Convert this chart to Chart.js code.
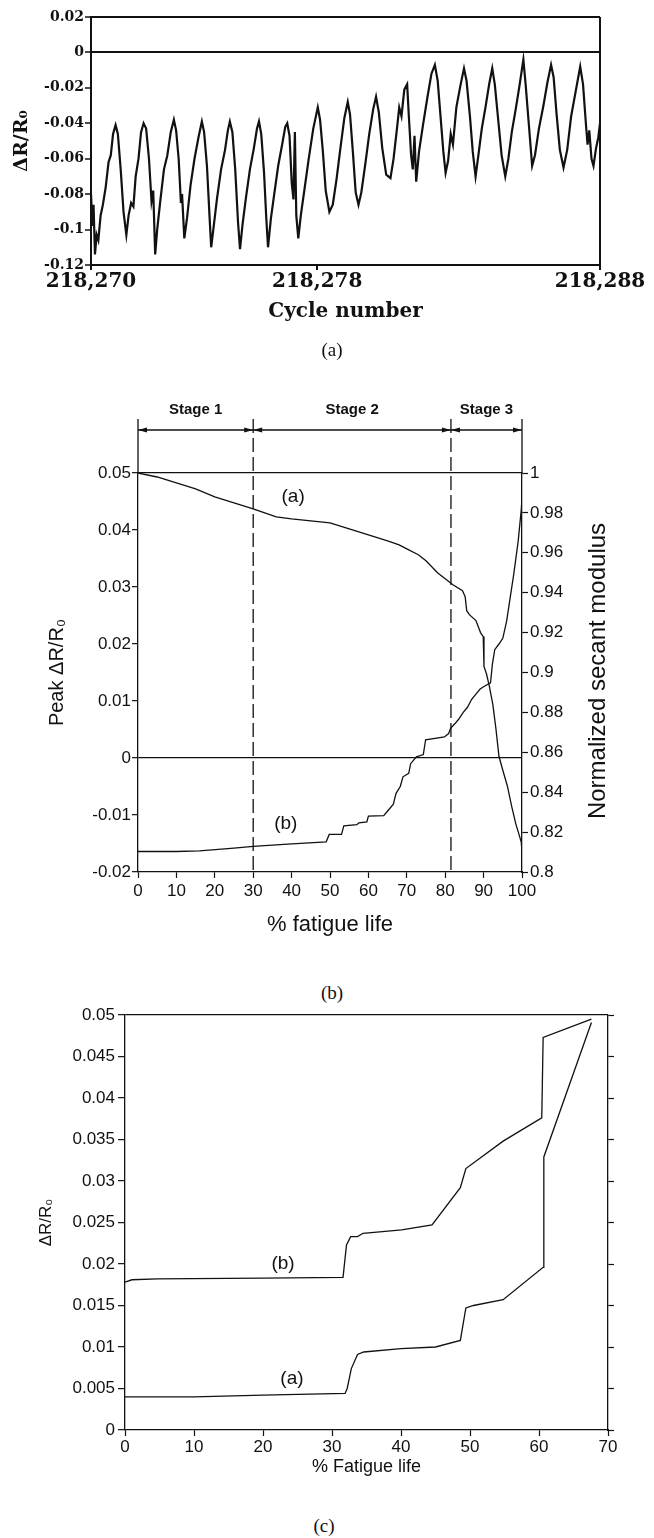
<!DOCTYPE html>
<html>
<head>
<meta charset="utf-8">
<script src="https://cdn.jsdelivr.net/npm/chart.js@4.4.1/dist/chart.umd.min.js"></script>
<style>
  html, body { margin: 0; padding: 0; background: #fff; }
  #page { position: relative; width: 654px; height: 1538px; overflow: hidden; }
  #page canvas { position: absolute; left: 0; }
  .cap { position: absolute; width: 60px; margin-left: -30px; text-align: center;
         font: 19px "Liberation Serif", "DejaVu Serif", serif; color: #111; }
</style>
</head>
<body>
<div id="page">
  <canvas id="figA" width="654" height="370" style="top:0"></canvas>
  <div class="cap" style="left:332px; top:339px">(a)</div>
  <canvas id="figB" width="654" height="560" style="top:385px"></canvas>
  <div class="cap" style="left:332px; top:982px">(b)</div>
  <canvas id="figC" width="654" height="490" style="top:1000px"></canvas>
  <div class="cap" style="left:324px; top:1515px">(c)</div>
</div>
<script>
// ---- (a) resistance change over a few load cycles ----
const CYCLE0 = 218270;
const cycleTicks = [218270, 218278, 218288];
// offset from cycle 218,270
const cycleOffsetA = [
  0.00, 0.05, 0.09, 0.14, 0.20, 0.26, 0.34, 0.42, 0.52, 0.62, 0.70, 0.78,
  0.87, 0.95, 1.05, 1.15, 1.25, 1.33, 1.42, 1.50, 1.58, 1.68, 1.77,
  1.86, 1.95, 2.05, 2.14, 2.20, 2.27, 2.34, 2.45, 2.58, 2.70, 2.82,
  2.93, 3.01, 3.10, 3.18, 3.22, 3.30, 3.40, 3.52, 3.66, 3.80,
  3.92, 4.00, 4.10, 4.19, 4.25, 4.34, 4.46, 4.60, 4.74, 4.84,
  4.91, 5.00, 5.10, 5.20, 5.27, 5.36, 5.48, 5.62, 5.76, 5.87,
  5.94, 6.02, 6.12, 6.20, 6.26, 6.36, 6.48, 6.62, 6.76, 6.87,
  6.94, 7.02, 7.10, 7.16, 7.21, 7.26, 7.33, 7.42, 7.56, 7.70, 7.86,
  8.02, 8.10, 8.20, 8.30, 8.43, 8.55, 8.68, 8.82, 8.96,
  9.08, 9.16, 9.26, 9.36, 9.46, 9.56, 9.70, 9.84, 9.98,
  10.08, 10.18, 10.30, 10.44, 10.59, 10.70, 10.82, 10.90, 10.98, 11.08,
  11.18, 11.24, 11.32, 11.38, 11.44, 11.50, 11.60, 11.74, 11.90, 12.04,
  12.16, 12.26, 12.36, 12.46, 12.54, 12.63, 12.72, 12.80, 12.92, 13.06,
  13.19, 13.28, 13.40, 13.50, 13.60, 13.70, 13.82, 13.96, 14.08,
  14.19, 14.28, 14.40, 14.52, 14.65, 14.76, 14.88, 15.02, 15.16,
  15.29, 15.37, 15.48, 15.60, 15.70, 15.84, 16.00, 16.14,
  16.27, 16.36, 16.46, 16.58, 16.71, 16.84, 16.98, 17.14,
  17.30, 17.40, 17.50, 17.56, 17.62, 17.70, 17.77, 17.86, 17.94, 18.00
];
const dRA = [
  -0.080, -0.098, -0.086, -0.114, -0.103, -0.106, -0.092, -0.086, -0.076, -0.062, -0.058, -0.046,
  -0.041, -0.046, -0.066, -0.090, -0.103, -0.092, -0.085, -0.087, -0.070, -0.060, -0.045,
  -0.040, -0.043, -0.060, -0.084, -0.078, -0.114, -0.100, -0.084, -0.066, -0.058, -0.045,
  -0.038, -0.044, -0.060, -0.085, -0.080, -0.105, -0.093, -0.075, -0.060, -0.048,
  -0.039, -0.045, -0.064, -0.092, -0.110, -0.098, -0.082, -0.066, -0.055, -0.044,
  -0.039, -0.045, -0.066, -0.096, -0.111, -0.097, -0.082, -0.066, -0.054, -0.043,
  -0.039, -0.046, -0.068, -0.094, -0.110, -0.094, -0.080, -0.064, -0.052, -0.042,
  -0.040, -0.047, -0.074, -0.083, -0.045, -0.092, -0.105, -0.092, -0.076, -0.060, -0.043,
  -0.031, -0.038, -0.056, -0.078, -0.090, -0.086, -0.072, -0.054, -0.037,
  -0.028, -0.035, -0.056, -0.079, -0.086, -0.079, -0.063, -0.046, -0.032,
  -0.025, -0.034, -0.054, -0.069, -0.071, -0.060, -0.043, -0.031, -0.036, -0.021,
  -0.018, -0.036, -0.058, -0.066, -0.047, -0.073, -0.056, -0.041, -0.025, -0.012,
  -0.007, -0.016, -0.036, -0.056, -0.068, -0.061, -0.046, -0.052, -0.031, -0.019,
  -0.009, -0.016, -0.036, -0.056, -0.070, -0.058, -0.043, -0.030, -0.018,
  -0.009, -0.018, -0.038, -0.058, -0.070, -0.060, -0.045, -0.032, -0.018,
  -0.004, -0.018, -0.040, -0.064, -0.058, -0.043, -0.030, -0.017,
  -0.007, -0.014, -0.034, -0.055, -0.065, -0.055, -0.036, -0.022,
  -0.008, -0.018, -0.040, -0.052, -0.044, -0.060, -0.064, -0.054, -0.048, -0.040
];

// ---- (b) peak resistance change and secant modulus vs % fatigue life ----
const lifeMod = [0, 5, 10, 15, 20, 25, 30, 33, 36, 40, 45, 50, 55, 60, 65, 68, 70, 73, 75, 78,
  80, 82, 84.5, 85.2, 85.6, 86.3, 88, 89.2, 89.9, 90.1, 90.8, 91.5, 92.4, 93.2, 94, 95,
  96.2, 97.3, 98.4, 99.2, 99.8, 100];
const secantModulus = [1.000, 0.998, 0.995, 0.992, 0.988, 0.985, 0.982, 0.980, 0.978, 0.977,
  0.976, 0.975, 0.972, 0.969, 0.966, 0.964, 0.962, 0.959, 0.956, 0.950,
  0.947, 0.944, 0.941, 0.938, 0.931, 0.929, 0.926, 0.920, 0.918, 0.903, 0.899, 0.893, 0.884,
  0.872, 0.858, 0.851, 0.843, 0.833, 0.824, 0.819, 0.815, 0.810];
const lifePeak = [0, 10, 16, 25, 30, 39, 49, 49.8, 53, 53.6, 57, 57.5, 59.6, 60, 64, 65, 66.5,
  67.2, 68.3, 69, 70.5, 71, 72.5, 74.3, 74.9, 79.8, 80.9, 81.4, 82.5, 83.5, 84.7, 85.8,
  86.9, 88, 89.1, 90.2, 91.8, 92.3, 92.9, 94, 95, 96, 97, 97.8, 99, 99.8, 100];
const peakDR = [-0.0164, -0.0164, -0.0163, -0.0158, -0.0155, -0.0151, -0.0147, -0.0134, -0.0134,
  -0.0119, -0.0117, -0.0114, -0.0112, -0.0102, -0.0101, -0.0093, -0.0081, -0.0062, -0.0050,
  -0.0033, -0.0027, -0.0010, 0.0002, 0.0006, 0.0032, 0.0037, 0.0043, 0.0052, 0.0060, 0.0068,
  0.0080, 0.0089, 0.0103, 0.0112, 0.0121, 0.0126, 0.0132, 0.0165, 0.0190, 0.0200, 0.0210,
  0.0240, 0.0285, 0.0320, 0.0380, 0.0435, 0.0455];
const stageBounds = [0, 30, 81.5, 100];
const stageNames = ['Stage 1', 'Stage 2', 'Stage 3'];

// ---- (c) two specimens ----
const lifeCa = [0, 10, 20, 31.9, 32.2, 32.8, 33.7, 34.6, 40, 45, 48.6, 49.4, 50.5, 54.8, 60.6, 60.7, 67.6];
const dRCa = [0.0040, 0.0040, 0.0042, 0.0044, 0.0050, 0.0074, 0.0091, 0.0094, 0.0098, 0.0100,
  0.0108, 0.0147, 0.0150, 0.0157, 0.0196, 0.0329, 0.0491];
const lifeCb = [0, 1, 4.7, 20, 31.6, 32.1, 32.7, 33.7, 34.5, 40.1, 44.5, 48.6, 49.4, 54.8, 60.4, 60.6, 67.6];
const dRCb = [0.0178, 0.0181, 0.0182, 0.0183, 0.0184, 0.0223, 0.0233, 0.0233, 0.0237, 0.0241,
  0.0247, 0.0292, 0.0315, 0.0348, 0.0376, 0.0473, 0.0495];

const INK = '#111';
const SANS = '"Liberation Sans", Arial, sans-serif';
const SERIF = '"DejaVu Serif", serif';
const zip = (xs, ys) => xs.map((x, i) => ({x: x, y: ys[i]}));
const near = (a, b) => Math.abs(a - b) < 1e-9;
const lineAt = (...vals) => c => (c.tick && vals.some(v => near(c.tick.value, v))) ? INK : 'rgba(0,0,0,0)';
const fmt = d => v => String(+Number(v).toFixed(d));

Chart.defaults.color = INK;
Chart.defaults.font.family = SANS;

const baseOpts = {
  responsive: false,
  animation: false,
  events: [],
  plugins: {legend: {display: false}, tooltip: {enabled: false}}
};
const curve = (data, extra) => Object.assign({
  data: data, borderColor: INK, borderWidth: 1.3, pointRadius: 0, tension: 0, fill: false
}, extra || {});

// text drawn at data coordinates
function labelAt(chart, txt, x, y, axis) {
  const ctx = chart.ctx;
  ctx.save();
  ctx.font = '19px ' + SANS;
  ctx.fillStyle = INK;
  ctx.textAlign = 'center';
  ctx.textBaseline = 'middle';
  ctx.fillText(txt, chart.scales.x.getPixelForValue(x), chart.scales[axis || 'y'].getPixelForValue(y));
  ctx.restore();
}

// (a)
new Chart(document.getElementById('figA'), {
  type: 'line',
  data: {datasets: [curve(zip(cycleOffsetA.map(c => CYCLE0 + c), dRA), {borderWidth: 2.2})]},
  options: Object.assign({}, baseOpts, {
    layout: {padding: {top: 17, right: 54, left: 0, bottom: 0}},
    scales: {
      x: {
        type: 'linear', min: CYCLE0, max: 218288,
        afterBuildTicks: s => { s.ticks = cycleTicks.map(v => ({value: v})); },
        afterFit: s => { s.height = 105; },
        border: {color: INK, width: 2},
        grid: {color: lineAt(218288), lineWidth: 2, tickColor: INK, tickWidth: 2, tickLength: 5},
        ticks: {autoSkip: false, maxRotation: 0, padding: 0, color: INK,
                font: {family: SERIF, weight: 'bold', size: 20},
                callback: v => Number(v).toLocaleString('en-US')},
        title: {display: true, text: 'Cycle number', color: INK,
                font: {family: SERIF, weight: 'bold', size: 20}, padding: {top: 0, bottom: 46}}
      },
      y: {
        min: -0.12, max: 0.02,
        afterFit: s => { s.width = 91; },
        border: {color: INK, width: 2},
        grid: {color: lineAt(0, 0.02), lineWidth: 2, tickColor: INK, tickWidth: 1.5, tickLength: 6},
        ticks: {stepSize: 0.02, padding: 1, color: INK, callback: fmt(2),
                font: {family: SERIF, weight: 'bold', size: 14}},
        title: {display: true, text: 'ΔR/R₀', color: INK,
                font: {family: SERIF, weight: 'bold', size: 19}, padding: {top: 11, bottom: 0}}
      }
    }
  })
});

// (b)
const stagePlugin = {
  id: 'stages',
  afterDraw(chart) {
    const {ctx, chartArea, scales} = chart;
    const X = v => scales.x.getPixelForValue(v);
    const barY = 45, topY = barY - 11;
    ctx.save();
    ctx.strokeStyle = INK;
    ctx.fillStyle = INK;
    ctx.lineWidth = 1.3;
    // axis lines carried up to the stage bar
    ctx.beginPath();
    ctx.moveTo(X(0), topY); ctx.lineTo(X(0), chartArea.top);
    ctx.moveTo(X(100), topY); ctx.lineTo(X(100), chartArea.top);
    ctx.moveTo(X(0), barY); ctx.lineTo(X(100), barY);
    ctx.stroke();
    // dashed stage boundaries
    ctx.setLineDash([14, 5]);
    ctx.beginPath();
    [30, 81.5].forEach(v => { ctx.moveTo(X(v), topY); ctx.lineTo(X(v), chartArea.bottom); });
    ctx.stroke();
    ctx.setLineDash([]);
    // arrow heads and stage names
    ctx.font = 'bold 15px ' + SANS;
    ctx.textAlign = 'center';
    ctx.textBaseline = 'middle';
    for (let i = 0; i < stageBounds.length - 1; i++) {
      const a = X(stageBounds[i]), b = X(stageBounds[i + 1]);
      [[a, 1], [b, -1]].forEach(([px, dir]) => {
        ctx.beginPath();
        ctx.moveTo(px, barY);
        ctx.lineTo(px + dir * 9, barY - 2.5);
        ctx.lineTo(px + dir * 9, barY + 2.5);
        ctx.closePath();
        ctx.fill();
      });
      ctx.fillText(stageNames[i], (a + b) / 2, barY - 20);
    }
    // right axis title, reads bottom to top
    ctx.font = '24px ' + SANS;
    ctx.translate(598, 286);
    ctx.rotate(-Math.PI / 2);
    ctx.fillText('Normalized secant modulus', 0, 0);
    ctx.restore();
    labelAt(chart, '(a)', 40.4, 0.0459);
    labelAt(chart, '(b)', 38.5, -0.0115);
  }
};

new Chart(document.getElementById('figB'), {
  type: 'line',
  data: {datasets: [
    curve(zip(lifeMod, secantModulus), {yAxisID: 'y2'}),
    curve(zip(lifePeak, peakDR), {yAxisID: 'y'})
  ]},
  options: Object.assign({}, baseOpts, {
    layout: {padding: {top: 88, right: 0, left: 0, bottom: 0}},
    scales: {
      x: {
        type: 'linear', min: 0, max: 100,
        afterFit: s => { s.height = 73; },
        border: {color: INK, width: 1.3},
        grid: {color: 'rgba(0,0,0,0)', tickColor: INK, tickWidth: 1.2, tickLength: 6},
        ticks: {stepSize: 10, padding: 3, maxRotation: 0, color: INK, font: {size: 17}},
        title: {display: true, text: '% fatigue life', color: INK, font: {size: 22},
                padding: {top: 0, bottom: 7}}
      },
      y: {
        position: 'left', min: -0.02, max: 0.05,
        afterFit: s => { s.width = 138; },
        border: {color: INK, width: 1.3},
        grid: {color: lineAt(0, 0.05), lineWidth: 1.3, tickColor: INK, tickWidth: 1.2, tickLength: 6},
        ticks: {stepSize: 0.01, padding: 1, color: INK, font: {size: 17}, callback: fmt(2)},
        title: {display: true, text: 'Peak ΔR/R₀', color: INK, font: {size: 20},
                padding: {top: 45, bottom: 0}}
      },
      y2: {
        position: 'right', min: 0.8, max: 1,
        afterFit: s => { s.width = 132; },
        border: {color: INK, width: 1.3},
        grid: {drawOnChartArea: false, tickColor: INK, tickWidth: 1.2, tickLength: 6},
        ticks: {stepSize: 0.02, padding: 2, color: INK, font: {size: 17}, callback: fmt(2)}
      }
    }
  }),
  plugins: [stagePlugin]
});

// (c)
new Chart(document.getElementById('figC'), {
  type: 'line',
  data: {datasets: [
    curve(zip(lifeCa, dRCa)),
    curve(zip(lifeCb, dRCb))
  ]},
  options: Object.assign({}, baseOpts, {
    layout: {padding: {top: 15, right: 0, left: 0, bottom: 0}},
    scales: {
      x: {
        type: 'linear', min: 0, max: 70,
        afterFit: s => { s.height = 60; },
        border: {color: INK, width: 1.3},
        grid: {color: 'rgba(0,0,0,0)', tickColor: INK, tickWidth: 1.2, tickLength: 6},
        ticks: {stepSize: 10, padding: 1, maxRotation: 0, color: INK, font: {size: 17}},
        title: {display: true, text: '% Fatigue life', color: INK, font: {size: 18},
                padding: {top: 0, bottom: 12}}
      },
      y: {
        min: 0, max: 0.05,
        afterFit: s => { s.width = 125; },
        border: {color: INK, width: 1.3},
        grid: {color: lineAt(0.05), lineWidth: 1.3, tickColor: INK, tickWidth: 1.2, tickLength: 7},
        ticks: {stepSize: 0.005, padding: 3, color: INK, font: {size: 17}, callback: fmt(3)},
        title: {display: true, text: 'ΔR/R₀', color: INK, font: {size: 17},
                padding: {top: 36, bottom: 0}}
      },
      y2: {
        position: 'right', min: 0, max: 0.05,
        afterFit: s => { s.width = 46; },
        border: {color: INK, width: 1.3},
        grid: {drawOnChartArea: false, tickColor: INK, tickWidth: 1.2, tickLength: 6},
        ticks: {display: false, stepSize: 0.005}
      }
    }
  }),
  plugins: [{
    id: 'curveNames',
    afterDraw(chart) {
      labelAt(chart, '(b)', 22.9, 0.0200);
      labelAt(chart, '(a)', 24.2, 0.0062);
    }
  }]
});
</script>
</body>
</html>
